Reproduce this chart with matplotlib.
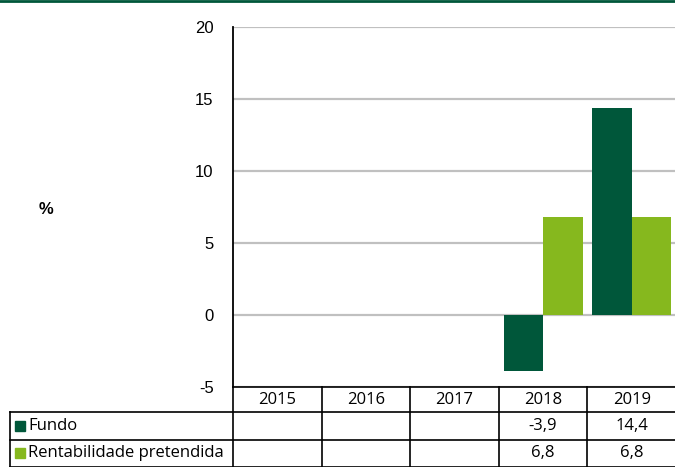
import matplotlib.pyplot as plt
from matplotlib.patches import Rectangle
from matplotlib.lines import Line2D

years = ['2015', '2016', '2017', '2018', '2019']
fundo = [None, None, None, -3.9, 14.4]
pretendida = [None, None, None, 6.8, 6.8]
series_names = ['Fundo', 'Rentabilidade pretendida']
yticks = [-5, 0, 5, 10, 15, 20]

dark_green = '#00573a'
light_green = '#86b81e'

W, H = 675, 467
fig = plt.figure(figsize=(W / 100, H / 100), dpi=100)

def fx(px):
    return px / W

def fy(py):
    return 1 - py / H

ax = fig.add_axes([fx(233), fy(387), fx(676) - fx(233), fy(27) - fy(387)])

bw = 0.445
xs = range(len(years))
for i in xs:
    if fundo[i] is not None:
        ax.bar(i - bw / 2, fundo[i], width=bw, color=dark_green, zorder=3)
    if pretendida[i] is not None:
        ax.bar(i + bw / 2, pretendida[i], width=bw, color=light_green, zorder=3)

ax.set_xlim(-0.5, len(years) - 0.5)
ax.set_ylim(-5, 20)
ax.set_yticks(yticks)
ax.set_yticklabels([str(t) for t in yticks], family='Liberation Sans', fontsize=12)
ax.set_xticks([])
ax.yaxis.grid(True, color='#c0c0c0', linewidth=1.6, zorder=0)
for s in ['top', 'right', 'bottom']:
    ax.spines[s].set_visible(False)
ax.spines['left'].set_linewidth(1.3)
ax.tick_params(axis='y', length=0, pad=14)

fig.text(fx(46), fy(209), '%', fontsize=12, fontweight='bold',
         family='Liberation Sans', ha='center', va='center')

# green rule along the top edge
fig.add_artist(Line2D([0, 1], [fy(1), fy(1)], color=dark_green, linewidth=2))

# data table under the plot
lc = 'black'
lw = 1.2
col_edges = [233 + i * 88.6 for i in range(len(years) + 1)]
row_edges = [387, 412, 440, 466.5]

def hline(x0, x1, y):
    fig.add_artist(Line2D([fx(x0), fx(x1)], [fy(y), fy(y)], color=lc, linewidth=lw))

def vline(x, y0, y1):
    fig.add_artist(Line2D([fx(x), fx(x)], [fy(y0), fy(y1)], color=lc, linewidth=lw))

hline(233, 676, row_edges[0])
hline(10, 676, row_edges[1])
hline(10, 676, row_edges[2])
hline(10, 676, row_edges[3])
for x in col_edges[:-1]:
    vline(x, row_edges[0], row_edges[3])
vline(10, row_edges[1], row_edges[3])

tsize = 12
tfont = dict(family='Open Sans', fontsize=tsize, va='center', ha='center')
for i, y in enumerate(years):
    cx = (col_edges[i] + col_edges[i + 1]) / 2
    fig.text(fx(cx), fy((row_edges[0] + row_edges[1]) / 2), y, **tfont)

def fmt(v):
    return '' if v is None else f'{v:.1f}'.replace('.', ',')

for r, (name, vals, c) in enumerate(zip(series_names, [fundo, pretendida],
                                         [dark_green, light_green])):
    cy = (row_edges[r + 1] + row_edges[r + 2]) / 2
    fig.add_artist(Rectangle((fx(15), fy(cy + 5)), fx(10), fy(cy - 5) - fy(cy + 5),
                             color=c, transform=fig.transFigure))
    fig.text(fx(28), fy(cy), name, family='Open Sans', fontsize=tsize,
             va='center', ha='left')
    for i, v in enumerate(vals):
        cx = (col_edges[i] + col_edges[i + 1]) / 2
        fig.text(fx(cx), fy(cy), fmt(v), **tfont)

fig.savefig('out.png', dpi=100)
